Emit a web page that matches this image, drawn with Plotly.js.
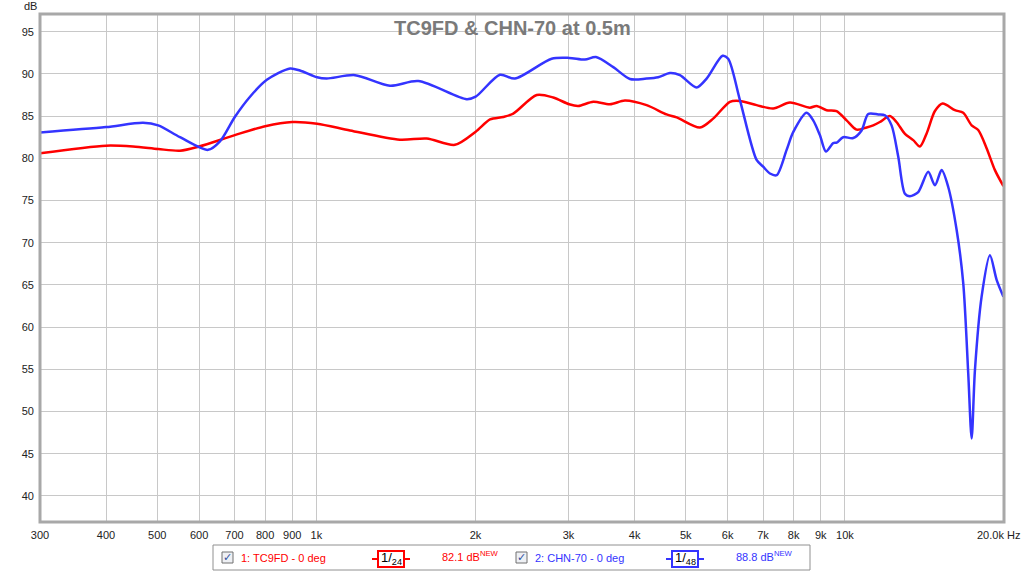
<!DOCTYPE html>
<html>
<head>
<meta charset="utf-8">
<script src="https://cdn.plot.ly/plotly-3.0.1.min.js"></script>
<style>
  body { margin: 0; background: #fff; }
  #chart { width: 1024px; height: 572px; }
</style>
</head>
<body>
<div id="chart"></div>
<script>
// TC9FD measurement, 1/24 octave smoothing
var redFreq = [300, 400, 450, 502, 552, 600, 701, 800, 900, 1003, 1158, 1439, 1617, 1829, 2002,
  2131, 2257, 2358, 2612, 2807, 3009, 3129, 3342, 3593, 3836, 4215, 4599, 4806, 5318, 5633,
  6060, 6330, 6807, 7317, 7869, 8585, 8840, 9233, 9646, 10074, 10523, 10992, 11313, 11646,
  12164, 12520, 12990, 13466, 13865, 14277, 14802, 15306, 16150, 16746, 17370, 17875, 18540,
  19225, 19950];
var redDb = [80.6, 81.5, 81.4, 81.1, 80.9, 81.4, 82.75, 83.8, 84.3, 84.1, 83.3, 82.2, 82.35, 81.6, 83.15,
  84.6, 84.9, 85.3, 87.5, 87.2, 86.4, 86.2, 86.7, 86.4, 86.85, 86.3, 85.2, 84.85, 83.65, 84.7,
  86.7, 86.8, 86.3, 85.9, 86.6, 86.0, 86.2, 85.7, 85.6, 84.5, 83.4, 83.65, 83.9, 84.3,
  85.0, 84.3, 82.9, 82.15, 81.4, 82.95, 85.6, 86.5, 85.7, 85.4, 83.9, 83.35, 81.2,
  78.6, 76.7];

// CHN-70 measurement, 1/48 octave smoothing
var blueFreq = [300, 400, 470, 502, 552, 624, 657, 701, 749, 806, 892, 931, 1003, 1046, 1183,
  1378, 1559, 1925, 2002, 2225, 2375, 2787, 3009, 3222, 3381, 3646, 3920, 4215, 4433, 4666,
  4874, 5241, 5475, 5869, 6015, 6330, 6807, 7005, 7214, 7428, 7758, 7983, 8464, 8710, 8967,
  9206, 9504, 9650, 9927, 10368, 10755, 11070, 11563, 11905, 12255, 12615, 12990, 13275,
  13764, 14376, 14802, 15240, 15687, 16272, 16746, 17115, 17370, 17622, 18141, 18810,
  19368, 19950];
var blueDb = [83.07, 83.7, 84.2, 83.9, 82.5, 81.0, 82.0, 84.9, 87.3, 89.3, 90.65, 90.4, 89.6, 89.45, 89.85,
  88.6, 89.15, 87.0, 87.3, 89.9, 89.45, 91.8, 91.9, 91.7, 92.0, 90.8, 89.4, 89.45, 89.6, 90.1,
  89.85, 88.4, 89.45, 92.15, 91.8, 86.9, 79.8, 79.0, 78.2, 78.0, 81.0, 83.1, 85.4, 84.5, 82.75,
  80.8, 81.8, 81.85, 82.5, 82.4, 83.3, 85.25, 85.2, 85.1, 83.9, 80.2, 75.8, 75.5,
  76.0, 78.4, 76.8, 78.6, 76.6, 71.5, 65.2, 54.5, 46.8, 54.9, 63.6, 68.5,
  65.6, 63.6];

var xTicks = [300, 400, 500, 600, 700, 800, 900, 1000, 2000, 3000, 4000, 5000, 6000, 7000, 8000, 9000, 10000, 20000];
var xTickText = ['300', '400', '500', '600', '700', '800', '900', '1k', '2k', '3k', '4k', '5k', '6k', '7k', '8k', '9k', '10k', ''];
var yTicks = [40, 45, 50, 55, 60, 65, 70, 75, 80, 85, 90, 95];

var W = 1024, H = 572, L = 40, R = 20, T = 14, B = 50;
// pixel -> paper helpers for the decorations
function px(x) { return (x - L) / (W - L - R); }
function py(y) { return (H - B - y) / (H - T - B); }

var red = '#ff0000', blue = '#3434ff';

var data = [
  { x: redFreq, y: redDb, type: 'scatter', mode: 'lines', name: '1: TC9FD - 0 deg',
    line: { color: red, width: 2.5, shape: 'spline', smoothing: 0.8 } },
  { x: blueFreq, y: blueDb, type: 'scatter', mode: 'lines', name: '2: CHN-70 - 0 deg',
    line: { color: blue, width: 2.5, shape: 'spline', smoothing: 0.8 } }
];

var font = { family: 'Liberation Sans, Arial, sans-serif', size: 11, color: '#222' };

function note(text, x, y, f, xa) {
  return { text: text, xref: 'paper', yref: 'paper', x: px(x), y: py(y), showarrow: false,
    xanchor: xa || 'center', yanchor: 'middle', font: f };
}

var shapes = [
  // plot frame
  { type: 'rect', xref: 'paper', yref: 'paper', x0: 0, x1: 1, y0: 0, y1: 1,
    line: { color: '#a8a8a8', width: 3 } },
  // legend box
  { type: 'rect', xref: 'paper', yref: 'paper', x0: px(213), x1: px(810), y0: py(570), y1: py(545),
    line: { color: '#909090', width: 1 }, fillcolor: 'rgba(0,0,0,0)' }
];
var annotations = [
  note('<b>TC9FD & CHN-70 at 0.5m</b>', 512, 28, { family: 'Liberation Sans, Arial, sans-serif', size: 20, color: '#7a7a7a' }),
  note('dB', 30, 6, font),
  note('20.0k Hz', 1022, 535, font, 'right')
];

function legendItem(x0, color, label, smooth, level) {
  // checkbox
  shapes.push({ type: 'rect', xref: 'paper', yref: 'paper', x0: px(x0 - 5), x1: px(x0 + 6), y0: py(563), y1: py(552),
    line: { color: '#707070', width: 1 }, fillcolor: '#eef0f4' });
  annotations.push(note('✓', x0 + 0.5, 557.5, { family: 'DejaVu Sans', size: 11, color: '#3050a0' }));
  annotations.push(note(label, x0 + 12, 558, { family: font.family, size: 11, color: color }, 'left'));
  // smoothing symbol
  var cx = x0 + 164;
  shapes.push({ type: 'line', xref: 'paper', yref: 'paper', x0: px(cx - 19), x1: px(cx + 19), y0: py(559), y1: py(559),
    line: { color: color, width: 2 } });
  shapes.push({ type: 'rect', xref: 'paper', yref: 'paper', x0: px(cx - 13), x1: px(cx + 13), y0: py(567), y1: py(551),
    line: { color: color, width: 2 }, fillcolor: '#ffffff' });
  annotations.push(note('1/<sub>' + smooth + '</sub>', cx, 558, { family: font.family, size: 13, color: '#000' }));
  annotations.push(note(level + ' dB<sup>NEW</sup>', x0 + 213, 556, { family: font.family, size: 11, color: color }, 'left'));
}
legendItem(227, red, '1: TC9FD - 0 deg', '24', '82.1');
legendItem(521, blue, '2: CHN-70 - 0 deg', '48', '88.8');

var layout = {
  width: W, height: H,
  margin: { l: L, r: R, t: T, b: B, pad: 0 },
  paper_bgcolor: '#ffffff', plot_bgcolor: '#ffffff',
  showlegend: false,
  font: font,
  xaxis: {
    type: 'log', range: [Math.log10(300), Math.log10(20000)],
    tickmode: 'array', tickvals: xTicks, ticktext: xTickText,
    showgrid: true, gridcolor: '#c8c8c8', gridwidth: 1, zeroline: false,
    ticks: '', ticklen: 0, showline: false, tickfont: font, ticklabelstandoff: 5
  },
  yaxis: {
    range: [36.9, 97.1], tickmode: 'array', tickvals: yTicks,
    showgrid: true, gridcolor: '#c8c8c8', gridwidth: 1, zeroline: false,
    ticks: '', showline: false, tickfont: font, ticklabelstandoff: 5
  },
  shapes: shapes,
  annotations: annotations
};

Plotly.newPlot('chart', data, layout, { displayModeBar: false, staticPlot: true });
</script>
</body>
</html>
